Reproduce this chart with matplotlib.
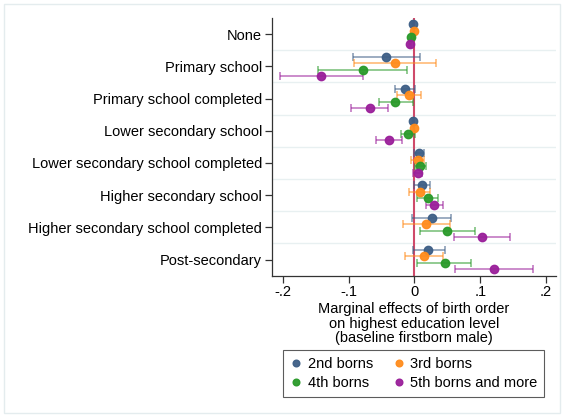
import numpy as np
import matplotlib
matplotlib.use("Agg")
import matplotlib.pyplot as plt
from matplotlib.patches import Rectangle

plt.rcParams['font.family'] = ['Liberation Sans', 'DejaVu Sans']

categories = ["None", "Primary school", "Primary school completed",
              "Lower secondary school", "Lower secondary school completed",
              "Higher secondary school", "Higher secondary school completed",
              "Post-secondary"]

series_names = ["2nd borns", "3rd borns", "4th borns", "5th borns and more"]
series_colors = ["#3e5f86", "#ff8c1c", "#2a9a2a", "#9a1f9a"]

# point estimates
est_2nd = [-0.003, -0.044, -0.014, -0.003, 0.007, 0.011, 0.026, 0.021]
est_3rd = [-0.0015, -0.030, -0.009, -0.0015, 0.005, 0.008, 0.018, 0.014]
est_4th = [-0.005, -0.078, -0.029, -0.010, 0.009, 0.020, 0.050, 0.046]
est_5th = [-0.007, -0.142, -0.068, -0.039, 0.005, 0.030, 0.103, 0.121]

# confidence intervals
lo_2nd = [-0.004, -0.093, -0.029, -0.004, -0.001, -0.0015, -0.004, -0.003]
hi_2nd = [-0.002, 0.008, 0.0015, -0.002, 0.014, 0.024, 0.055, 0.046]
lo_3rd = [-0.0025, -0.092, -0.027, -0.0025, -0.005, -0.008, -0.017, -0.014]
hi_3rd = [-0.0005, 0.032, 0.010, -0.0005, 0.014, 0.024, 0.054, 0.043]
lo_4th = [-0.006, -0.146, -0.054, -0.020, 0.001, 0.004, 0.008, 0.004]
hi_4th = [-0.004, -0.011, -0.003, 0.0015, 0.018, 0.036, 0.092, 0.086]
lo_5th = [-0.008, -0.205, -0.096, -0.058, -0.003, 0.018, 0.060, 0.061]
hi_5th = [-0.006, -0.078, -0.040, -0.019, 0.012, 0.043, 0.145, 0.180]

estimates = [est_2nd, est_3rd, est_4th, est_5th]
lows = [lo_2nd, lo_3rd, lo_4th, lo_5th]
highs = [hi_2nd, hi_3rd, hi_4th, hi_5th]
offsets = [-0.3, -0.1, 0.1, 0.3]

fig = plt.figure(figsize=(5.64, 4.15), dpi=100)
fig.patches.append(Rectangle((0.007, 0.005), 0.986, 0.985, transform=fig.transFigure,
                             fill=False, edgecolor="#e4ecee", lw=1.0))
ax = fig.add_axes([0.4817, 0.3357, 0.5041, 0.6209])

pos = np.arange(len(categories))
for half in pos[:-1] + 0.5:
    ax.axhline(half, color="#e8f0f1", lw=1.0, zorder=0)

ax.axvline(0, color="#cf4a6a", lw=1.5, zorder=1)

handles = []
for est, lo, hi, col, off, name in zip(estimates, lows, highs, series_colors, offsets, series_names):
    est = np.array(est)
    y = pos + off
    xerr = np.vstack([est - np.array(lo), np.array(hi) - est])
    ax.errorbar(est, y, xerr=xerr, fmt="none", ecolor=col, alpha=0.65,
                elinewidth=1.1, capsize=3, capthick=1.1, zorder=2)
    h, = ax.plot(est, y, "o", color=col, markersize=6, markeredgecolor=col,
                 zorder=3, label=name, alpha=0.95)
    handles.append(h)

ax.set_ylim(7.5, -0.5)
ax.set_xlim(-0.217, 0.215)
ax.set_yticks(pos)
ax.set_yticklabels(categories, fontsize=10.5)
ax.set_xticks([-0.2, -0.1, 0, 0.1, 0.2])
ax.set_xticklabels(["-.2", "-.1", "0", ".1", ".2"], fontsize=10.5)
for side in ["top", "right"]:
    ax.spines[side].set_visible(False)
for side in ["left", "bottom"]:
    ax.spines[side].set_color("#333333")
    ax.spines[side].set_linewidth(0.9)
ax.tick_params(axis="both", length=5, width=0.9, color="#333333", pad=2)
ax.set_xlabel("Marginal effects of birth order\non highest education level\n(baseline firstborn male)",
              fontsize=10.5, linespacing=1.05, labelpad=2)

# legend fills by column, so reorder to get 2nd/3rd on the first row
order = [0, 2, 1, 3]
leg = fig.legend([handles[i] for i in order], [series_names[i] for i in order],
                 loc="center", bbox_to_anchor=(0.733, 0.1, 0, 0), ncol=2,
                 fontsize=10.5, frameon=True, fancybox=False, edgecolor="#333333",
                 handletextpad=0.3, columnspacing=1.25, handlelength=1.0,
                 borderpad=0.45, labelspacing=0.35, markerscale=0.8)
leg.get_frame().set_linewidth(0.8)

fig.savefig("out.png", dpi=100)
